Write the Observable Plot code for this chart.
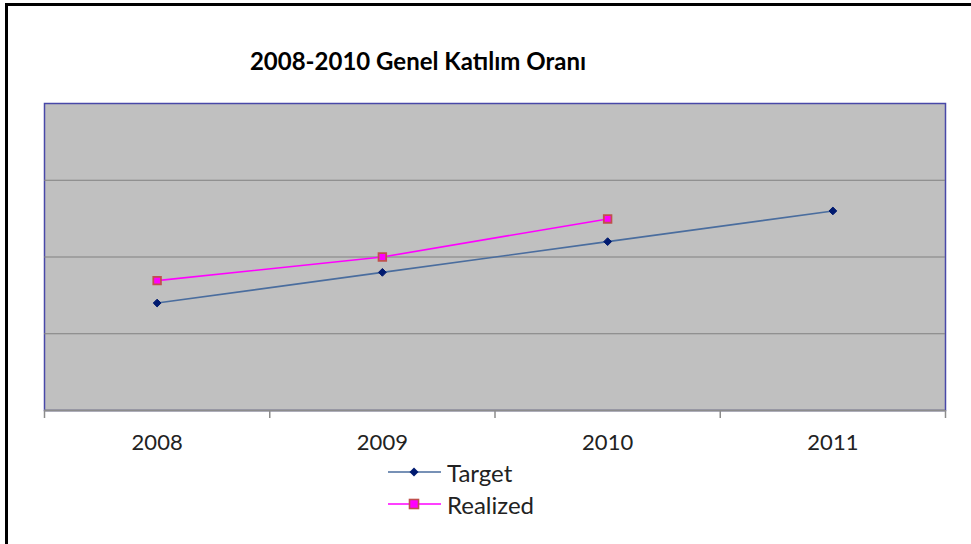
<!DOCTYPE html>
<html>
<head>
<meta charset="utf-8">
<script src="https://cdn.jsdelivr.net/npm/d3@7"></script>
<script src="https://cdn.jsdelivr.net/npm/@observablehq/plot@0.6"></script>
<style>
  html, body { margin: 0; padding: 0; background: #fff; overflow: hidden; }
  #wrap { position: relative; width: 971px; height: 544px; }
  #frame { position: absolute; left: 5px; top: 3px; right: -20px; bottom: -20px; border: 3px solid #000; }
  #title { position: absolute; left: 0; width: 836px; top: 46px; text-align: center;
           font-family: Lato, "Open Sans", sans-serif; font-weight: bold; font-size: 24px; color: #000; }
  #legend { position: absolute; left: 388px; top: 456px; font-family: Lato, "Open Sans", sans-serif; font-size: 24px; color: #222; }
  .item { display: flex; align-items: center; height: 32px; }
  .item svg { margin-right: 6px; }
  #chart { position: absolute; left: 0; top: 0; }
</style>
</head>
<body>
<div id="wrap">
  <div id="chart"></div>
  <div id="frame"></div>
  <div id="title">2008-2010 Genel Katılım Oranı</div>
  <div id="legend"></div>
</div>
<script>
const years = [2008, 2009, 2010, 2011];
const target = [35, 45, 55, 65];
const realizedYears = [2008, 2009, 2010];
const realized = [42.3, 50, 62.4];
const gridValues = [25, 50, 75];
const seriesNames = ["Target", "Realized"];

const targetData = years.map((y, i) => ({year: y, value: target[i]}));
const realizedData = realizedYears.map((y, i) => ({year: y, value: realized[i]}));
const bounds = [years[0] - 0.5, ...years.map(y => y + 0.5)];

const targetLine = "#4a6d9e", targetMark = "#001a70";
const realLine = "#ff00ff", realStroke = "#c0504d";

const chart = Plot.plot({
  width: 971,
  height: 544,
  marginTop: 103,
  marginLeft: 44,
  marginRight: 26,
  marginBottom: 134,
  style: {background: "transparent", fontFamily: "Lato, 'Open Sans', sans-serif"},
  x: {type: "linear", domain: [bounds[0], bounds[bounds.length - 1]], axis: null},
  y: {domain: [0, 100], axis: null},
  marks: [
    Plot.frame({fill: "#c0c0c0", stroke: "#4848a8", strokeWidth: 1.5}),
    Plot.ruleY(gridValues, {stroke: "#808080", strokeWidth: 1.2}),
    Plot.ruleY([0], {stroke: "#8c8c8c", strokeWidth: 2}),
    Plot.axisX({ticks: bounds, tickSize: 8, tickFormat: () => "", label: null, stroke: "#8c8c8c", strokeWidth: 1.5}),
    Plot.axisX({ticks: years, tickSize: 0, tickPadding: 24, label: null, tickFormat: d => String(d), fontSize: 22, fill: "#222"}),
    Plot.line(targetData, {x: "year", y: "value", stroke: targetLine, strokeWidth: 1.6}),
    Plot.dot(targetData, {x: "year", y: "value", symbol: "diamond2", r: 3.5, fill: targetMark, stroke: targetMark, strokeWidth: 1}),
    Plot.line(realizedData, {x: "year", y: "value", stroke: realLine, strokeWidth: 1.6}),
    Plot.dot(realizedData, {x: "year", y: "value", symbol: "square", r: 4.3, fill: realLine, stroke: realStroke, strokeWidth: 1.8})
  ]
});
document.getElementById("chart").appendChild(chart);

// legend
const legend = document.getElementById("legend");
const styles = [
  {line: targetLine, fill: targetMark, stroke: targetMark, shape: "diamond"},
  {line: realLine, fill: realLine, stroke: realStroke, shape: "square"}
];
seriesNames.forEach((name, i) => {
  const s = styles[i];
  const item = document.createElement("div");
  item.className = "item";
  const marker = s.shape === "diamond"
    ? `<path d="M26 -4.5 L30.5 0 L26 4.5 L21.5 0 Z" fill="${s.fill}"/>`
    : `<rect x="21.5" y="-4.5" width="9" height="9" fill="${s.fill}" stroke="${s.stroke}" stroke-width="1.6"/>`;
  item.innerHTML = `<svg width="53" height="14" viewBox="0 -7 53 14"><line x1="0" x2="53" y1="0" y2="0" stroke="${s.line}" stroke-width="1.6"/>${marker}</svg><span>${name}</span>`;
  legend.appendChild(item);
});
</script>
</body>
</html>
